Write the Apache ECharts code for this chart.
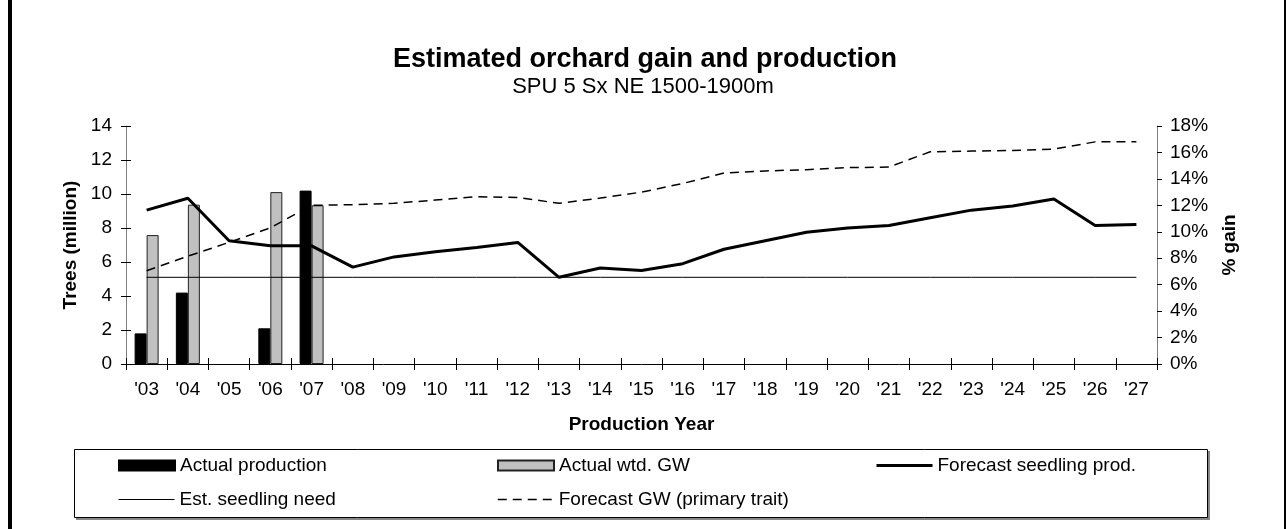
<!doctype html>
<html lang="en-US">

<head>
    <meta charset="utf-8" />
    <title>Estimated orchard gain and production</title>
    <script type="text/javascript" src="https://cdn.jsdelivr.net/npm/echarts@6.0.0/dist/echarts.min.js"></script>
    <style>
        html, body { margin: 0; padding: 0; background: #fff; }
        #chart { width: 1286px; height: 529px; }
    </style>
</head>

<body>
    <div id="chart"></div>
</body>

<script type="text/javascript">
    // production years, '03 .. '27
    let years = ["'03", "'04", "'05", "'06", "'07", "'08", "'09", "'10", "'11", "'12", "'13", "'14", "'15",
        "'16", "'17", "'18", "'19", "'20", "'21", "'22", "'23", "'24", "'25", "'26", "'27"];

    // trees (million), left axis
    let actual_production = [1.8, 4.2, null, 2.1, 10.2, null, null, null, null, null, null, null, null,
        null, null, null, null, null, null, null, null, null, null, null, null];
    let forecast_prod = [9.05, 9.75, 7.25, 6.95, 6.95, 5.7, 6.3, 6.6, 6.85, 7.15, 5.1, 5.65, 5.5,
        5.9, 6.75, 7.25, 7.75, 8.0, 8.15, 8.6, 9.05, 9.3, 9.7, 8.15, 8.2];
    let seedling_need = [5.1, 5.1, 5.1, 5.1, 5.1, 5.1, 5.1, 5.1, 5.1, 5.1, 5.1, 5.1, 5.1,
        5.1, 5.1, 5.1, 5.1, 5.1, 5.1, 5.1, 5.1, 5.1, 5.1, 5.1, 5.1];

    // % gain, right axis
    let actual_gw = [9.75, 12.05, null, 13.0, 12.0, null, null, null, null, null, null, null, null,
        null, null, null, null, null, null, null, null, null, null, null, null];
    let forecast_gw = [7.05, 8.15, 9.2, 10.3, 12.0, 12.05, 12.15, 12.4, 12.65, 12.6, 12.15, 12.55, 13.0,
        13.65, 14.45, 14.6, 14.7, 14.85, 14.9, 16.05, 16.1, 16.15, 16.25, 16.8, 16.8];

    let font = "'Liberation Sans', Arial, sans-serif";
    let tickFont = { fontFamily: font, fontSize: 19, color: '#000' };
    let nameFont = { fontFamily: font, fontSize: 19, fontWeight: 'bold', color: '#000' };

    // one legend component per entry, so the columns line up like the original
    let legendItem = function (name, left, top, lineStyle) {
        let item = { name: name };

        if (lineStyle) {
            item.itemStyle = { opacity: 0 };
            item.lineStyle = lineStyle;
        } else {
            item.icon = 'rect';
        }

        return {
            data: [item],
            left: left,
            top: top,
            orient: 'horizontal',
            itemWidth: 56,
            itemHeight: 10,
            itemGap: 0,
            padding: 0,
            selectedMode: false,
            textStyle: { fontFamily: font, fontSize: 19, color: '#000' }
        };
    };

    let chartDom = document.getElementById('chart');
    let myChart = echarts.init(chartDom, null, { renderer: 'canvas' });

    let option = {
        animation: false,
        backgroundColor: '#fff',
        grid: { left: 126, right: 129, top: 126, bottom: 165, containLabel: false },
        legend: [
            legendItem('Actual production', 118, 456, null),
            legendItem('Actual wtd. GW', 497, 456, null),
            legendItem('Forecast seedling prod.', 875, 456, { color: '#000', width: 3 }),
            legendItem('Est. seedling need', 118, 490, { color: '#000', width: 1 }),
            legendItem('Forecast GW (primary trait)', 497, 490, { color: '#000', width: 1.5, type: [9, 6] })
        ],
        xAxis: [
            {
                type: 'category',
                data: years,
                boundaryGap: true,
                name: 'Production Year',
                nameLocation: 'middle',
                nameGap: 51,
                nameTextStyle: nameFont,
                axisLine: { lineStyle: { color: '#000', width: 1 } },
                axisTick: { show: true, length: 6, lineStyle: { color: '#000' } },
                axisLabel: Object.assign({ margin: 16, interval: 0 }, tickFont),
                splitLine: { show: false }
            },
            {
                // inner half of the crossing tick marks
                type: 'category',
                data: years,
                position: 'bottom',
                boundaryGap: true,
                axisLine: { show: false },
                axisTick: { show: true, inside: true, length: 6, lineStyle: { color: '#000' } },
                axisLabel: { show: false },
                splitLine: { show: false }
            }
        ],
        yAxis: [
            {
                type: 'value',
                min: 0,
                max: 14,
                interval: 2,
                position: 'left',
                name: 'Trees (million)',
                nameLocation: 'middle',
                nameGap: 44,
                nameRotate: 90,
                nameTextStyle: nameFont,
                axisLine: { show: true, lineStyle: { color: '#808080', width: 1 } },
                axisTick: { show: true, length: 5, lineStyle: { color: '#000' } },
                axisLabel: Object.assign({ margin: 14 }, tickFont),
                splitLine: { show: false }
            },
            {
                type: 'value',
                min: 0,
                max: 18,
                interval: 2,
                position: 'right',
                name: '% gain',
                nameLocation: 'middle',
                nameGap: 63,
                nameRotate: 90,
                nameTextStyle: nameFont,
                axisLine: { show: true, lineStyle: { color: '#808080', width: 1 } },
                axisTick: { show: true, length: 5, lineStyle: { color: '#000' } },
                axisLabel: Object.assign({ margin: 13, formatter: '{value}%' }, tickFont),
                splitLine: { show: false }
            },
            {
                // inner half of the crossing tick marks
                type: 'value',
                min: 0,
                max: 14,
                interval: 2,
                position: 'left',
                axisLine: { show: false },
                axisTick: { show: true, inside: true, length: 5, lineStyle: { color: '#000' } },
                axisLabel: { show: false },
                splitLine: { show: false }
            }
        ],
        series: [
            {
                name: 'Actual production',
                type: 'bar',
                yAxisIndex: 0,
                data: actual_production,
                barWidth: 12,
                barGap: '0%',
                itemStyle: { color: '#000', borderColor: '#000', borderWidth: 1 }
            },
            {
                name: 'Actual wtd. GW',
                type: 'bar',
                yAxisIndex: 1,
                data: actual_gw,
                barWidth: 12,
                barGap: '0%',
                itemStyle: { color: '#c0c0c0', borderColor: '#222', borderWidth: 1 }
            },
            {
                name: 'Forecast seedling prod.',
                type: 'line',
                yAxisIndex: 0,
                data: forecast_prod,
                symbol: 'none',
                lineStyle: { color: '#000', width: 3 },
                itemStyle: { color: '#000' }
            },
            {
                name: 'Est. seedling need',
                type: 'line',
                yAxisIndex: 0,
                data: seedling_need,
                symbol: 'none',
                lineStyle: { color: '#000', width: 1 },
                itemStyle: { color: '#000' }
            },
            {
                name: 'Forecast GW (primary trait)',
                type: 'line',
                yAxisIndex: 1,
                data: forecast_gw,
                symbol: 'none',
                lineStyle: { color: '#000', width: 1.5, type: [9, 6] },
                itemStyle: { color: '#000' }
            }
        ],
        graphic: [
            // outer frame
            { type: 'rect', shape: { x: 8, y: 0, width: 4, height: 529 }, style: { fill: '#000' }, silent: true },
            { type: 'rect', shape: { x: 1284, y: 0, width: 2, height: 529 }, style: { fill: '#000' }, silent: true },
            // legend box with shadow
            { type: 'rect', shape: { x: 76, y: 451, width: 1134, height: 69 }, style: { fill: '#888' }, silent: true, z: -2 },
            { type: 'rect', shape: { x: 74.5, y: 449.5, width: 1133, height: 68 }, style: { fill: '#fff', stroke: '#000', lineWidth: 1 }, silent: true, z: -1 },
            // titles
            {
                type: 'text', x: 645, y: 60,
                style: { text: 'Estimated orchard gain and production', fontFamily: font, fontSize: 27, fontWeight: 'bold', fill: '#000', align: 'center', verticalAlign: 'middle' }
            },
            {
                type: 'text', x: 643, y: 87,
                style: { text: 'SPU 5 Sx NE 1500-1900m', fontFamily: font, fontSize: 22, fill: '#000', align: 'center', verticalAlign: 'middle' }
            }
        ]
    };

    myChart.setOption(option);
</script>

</html>
